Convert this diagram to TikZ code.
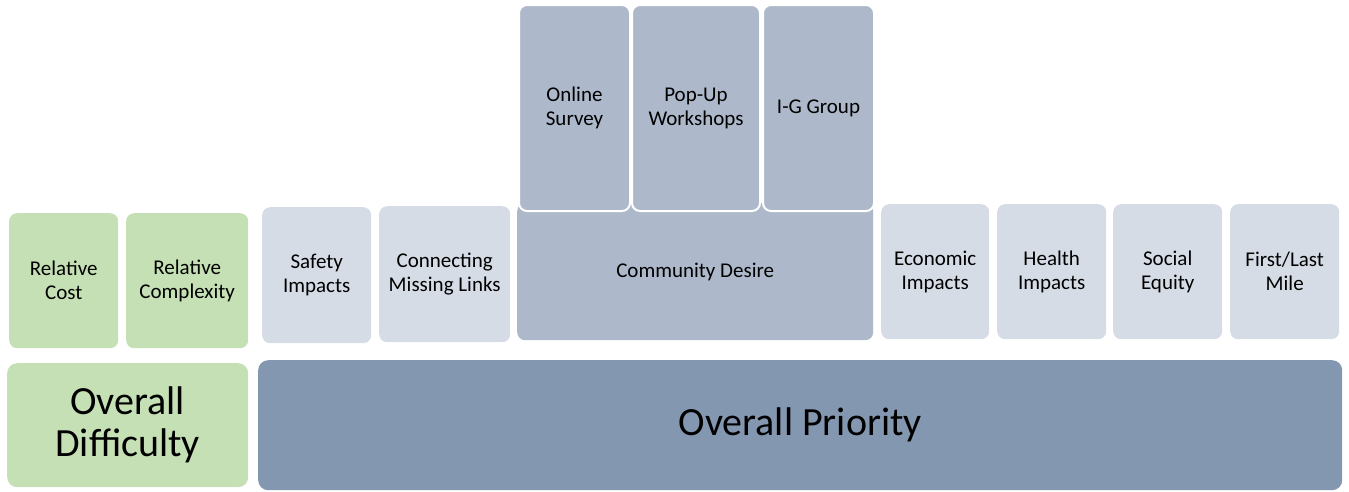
\documentclass[tikz,border=0pt]{standalone}
\usepackage{fontspec}
\setmainfont{Carlito}
\definecolor{cgreen}{HTML}{C5E0B4}
\definecolor{clight}{HTML}{D6DCE5}
\definecolor{cmid}{HTML}{ADB9CA}
\definecolor{cdark}{HTML}{8497B0}
\tikzset{
  box/.style={rounded corners=8pt, inner sep=0pt, anchor=north west, align=center,
    font=\fontsize{21}{24}\selectfont, text=black},
  big/.style={box, rounded corners=10pt, font=\fontsize{40}{42}\selectfont},
  topbox/.style={box, draw=white, line width=2pt, fill=cmid},
}
\newcommand{\bx}[7]{\node[#1, fill=#2, minimum width=#5-#3, minimum height=#6-#4] (#7) at (#3,#4)}
\begin{document}
\begin{tikzpicture}[x=1pt,y=-1pt]
\useasboundingbox (0,0) rectangle (1349,491);
% green
\bx{box}{cgreen}{9}{213}{118}{348}{cost} {Relative\\Cost};
\bx{box}{cgreen}{126}{213}{248}{348}{cplx} {Relative\\Complexity};
\bx{big}{cgreen}{7}{363}{248}{487}{diff} {Overall\\Difficulty};
% light
\bx{box}{clight}{262}{207}{371}{343}{safety} {Safety\\Impacts};
\bx{box}{clight}{379}{206}{510}{342}{links} {Connecting\\Missing Links};
\bx{box}{clight}{881}{204}{989}{339}{econ} {Economic\\Impacts};
\bx{box}{clight}{997}{204}{1106}{339}{health} {Health\\Impacts};
\bx{box}{clight}{1113}{204}{1222}{339}{equity} {Social\\Equity};
\bx{box}{clight}{1230}{204}{1339}{339}{mile} {First/Last\\Mile};
% community desire
\bx{box}{cmid}{517}{203}{873}{340}{desire} {Community Desire};
\bx{topbox}{cmid}{518}{4}{629}{210}{survey} {Online\\Survey};
\bx{topbox}{cmid}{631}{4}{759}{210}{popup} {Pop-Up\\Workshops};
\bx{topbox}{cmid}{762}{4}{873}{210}{ig} {I-G Group};
% overall priority
\bx{big}{cdark}{258}{360}{1342}{490}{prio} {Overall Priority};
\end{tikzpicture}
\end{document}
